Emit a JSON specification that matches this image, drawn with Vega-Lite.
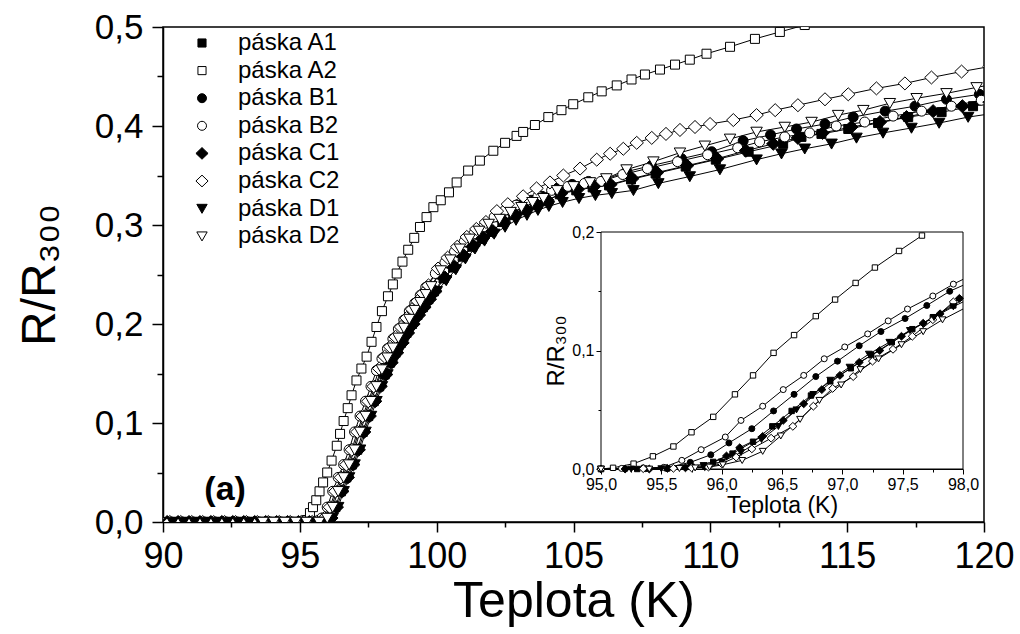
{
"$schema": "https://vega.github.io/schema/vega-lite/v6.json",
"width": 821, "height": 495,
"autosize": {"type": "none"},
"padding": {"left": 163, "top": 27, "right": 36, "bottom": 112},
"background": "white",
"config": {
  "font": "Liberation Sans",
  "locale": {"number": {"decimal": ",", "thousands": " ", "grouping": [3], "currency": ["", ""]}},
  "view": {"stroke": "black", "strokeWidth": 1.5},
  "axis": {"grid": false, "domainColor": "black", "tickColor": "black", "labelColor": "black", "titleColor": "black", "titleFontWeight": "normal", "labelFlush": false, "labelOverlap": false, "labelFont": "Liberation Sans", "titleFont": "Liberation Sans"}
},
"datasets": {
"lab": [{"t": 92.27, "r": 0.032, "txt": "(a)"}],
"box": [{"x1": 95, "x2": 98, "y1": 0, "y2": 0.2}],
"main": [
{"s":"páska A1","t":90,"r":0},{"s":"páska A1","t":90.4,"r":0},{"s":"páska A1","t":90.8,"r":0},{"s":"páska A1","t":91.2,"r":0},{"s":"páska A1","t":91.6,"r":0},{"s":"páska A1","t":92,"r":0},{"s":"páska A1","t":92.4,"r":0},{"s":"páska A1","t":92.8,"r":0},{"s":"páska A1","t":93.2,"r":0},{"s":"páska A1","t":93.6,"r":0},{"s":"páska A1","t":94,"r":0},{"s":"páska A1","t":94.4,"r":0},{"s":"páska A1","t":94.8,"r":0},{"s":"páska A1","t":95.2,"r":0},{"s":"páska A1","t":95.6,"r":0},
{"s":"páska A1","t":95.8,"r":0},{"s":"páska A1","t":96.1,"r":0.004},{"s":"páska A1","t":96.3,"r":0.015},{"s":"páska A1","t":96.5,"r":0.031},{"s":"páska A1","t":96.7,"r":0.045},{"s":"páska A1","t":96.9,"r":0.058},{"s":"páska A1","t":97.1,"r":0.073},{"s":"páska A1","t":97.3,"r":0.091},{"s":"páska A1","t":97.5,"r":0.107},{"s":"páska A1","t":97.7,"r":0.122},{"s":"páska A1","t":97.9,"r":0.137},{"s":"páska A1","t":98.1,"r":0.149},{"s":"páska A1","t":98.3,"r":0.161},{"s":"páska A1","t":98.5,"r":0.171},{"s":"páska A1","t":98.7,"r":0.181},{"s":"páska A1","t":98.9,"r":0.191},{"s":"páska A1","t":99.1,"r":0.2},{"s":"páska A1","t":99.3,"r":0.209},{"s":"páska A1","t":99.5,"r":0.217},{"s":"páska A1","t":99.7,"r":0.225},{"s":"páska A1","t":99.9,"r":0.233},{"s":"páska A1","t":100.25,"r":0.246},{"s":"páska A1","t":100.6,"r":0.257},{"s":"páska A1","t":100.95,"r":0.268},{"s":"páska A1","t":101.3,"r":0.278},{"s":"páska A1","t":101.65,"r":0.286},{"s":"páska A1","t":102,"r":0.293},{"s":"páska A1","t":102.4,"r":0.303},{"s":"páska A1","t":102.8,"r":0.31},{"s":"páska A1","t":103.2,"r":0.315},{"s":"páska A1","t":103.6,"r":0.32},{"s":"páska A1","t":104,"r":0.324},{"s":"páska A1","t":104.5,"r":0.331},{"s":"páska A1","t":105.1,"r":0.335},{"s":"páska A1","t":105.7,"r":0.338},{"s":"páska A1","t":106.3,"r":0.34},{"s":"páska A1","t":107.1,"r":0.346},{"s":"páska A1","t":108,"r":0.352},{"s":"páska A1","t":109.1,"r":0.359},{"s":"páska A1","t":110.2,"r":0.366},{"s":"páska A1","t":111.4,"r":0.374},{"s":"páska A1","t":112.66,"r":0.382},{"s":"páska A1","t":113.33,"r":0.389},{"s":"páska A1","t":114.06,"r":0.392},{"s":"páska A1","t":115.04,"r":0.397},{"s":"páska A1","t":116.13,"r":0.403},{"s":"páska A1","t":117.23,"r":0.409},{"s":"páska A1","t":118.45,"r":0.414},{"s":"páska A1","t":119.6,"r":0.42},{"s":"páska A1","t":120.5,"r":0.424},
{"s":"páska A2","t":90.1,"r":0},{"s":"páska A2","t":90.5,"r":0},{"s":"páska A2","t":90.9,"r":0},{"s":"páska A2","t":91.3,"r":0},{"s":"páska A2","t":91.7,"r":0},{"s":"páska A2","t":92.1,"r":0},{"s":"páska A2","t":92.5,"r":0},{"s":"páska A2","t":92.9,"r":0},{"s":"páska A2","t":93.3,"r":0},{"s":"páska A2","t":93.7,"r":0},{"s":"páska A2","t":94.1,"r":0},{"s":"páska A2","t":94.5,"r":0},{"s":"páska A2","t":94.9,"r":0},
{"s":"páska A2","t":95.25,"r":0.002},{"s":"páska A2","t":95.37,"r":0.009},{"s":"páska A2","t":95.48,"r":0.015},{"s":"páska A2","t":95.6,"r":0.022},{"s":"páska A2","t":95.72,"r":0.031},{"s":"páska A2","t":95.85,"r":0.04},{"s":"páska A2","t":96,"r":0.05},{"s":"páska A2","t":96.16,"r":0.062},{"s":"páska A2","t":96.35,"r":0.077},{"s":"páska A2","t":96.47,"r":0.089},{"s":"páska A2","t":96.6,"r":0.102},{"s":"páska A2","t":96.75,"r":0.115},{"s":"páska A2","t":96.89,"r":0.128},{"s":"páska A2","t":97.07,"r":0.143},{"s":"páska A2","t":97.25,"r":0.155},{"s":"páska A2","t":97.44,"r":0.167},{"s":"páska A2","t":97.62,"r":0.182},{"s":"páska A2","t":97.8,"r":0.197},{"s":"páska A2","t":98,"r":0.213},{"s":"páska A2","t":98.22,"r":0.228},{"s":"páska A2","t":98.4,"r":0.24},{"s":"páska A2","t":98.54,"r":0.251},{"s":"páska A2","t":98.75,"r":0.263},{"s":"páska A2","t":98.96,"r":0.275},{"s":"páska A2","t":99.18,"r":0.287},{"s":"páska A2","t":99.39,"r":0.298},{"s":"páska A2","t":99.63,"r":0.308},{"s":"páska A2","t":99.88,"r":0.318},{"s":"páska A2","t":100.15,"r":0.325},{"s":"páska A2","t":100.45,"r":0.333},{"s":"páska A2","t":100.73,"r":0.343},{"s":"páska A2","t":101.15,"r":0.355},{"s":"páska A2","t":101.58,"r":0.365},{"s":"páska A2","t":102.07,"r":0.375},{"s":"páska A2","t":102.5,"r":0.383},{"s":"páska A2","t":102.92,"r":0.39},{"s":"páska A2","t":103.16,"r":0.394},{"s":"páska A2","t":103.59,"r":0.401},{"s":"páska A2","t":104.08,"r":0.409},{"s":"páska A2","t":104.56,"r":0.416},{"s":"páska A2","t":104.99,"r":0.422},{"s":"páska A2","t":105.54,"r":0.429},{"s":"páska A2","t":106.03,"r":0.435},{"s":"páska A2","t":106.58,"r":0.441},{"s":"páska A2","t":107.12,"r":0.447},{"s":"páska A2","t":107.61,"r":0.452},{"s":"páska A2","t":108.16,"r":0.457},{"s":"páska A2","t":108.71,"r":0.462},{"s":"páska A2","t":109.25,"r":0.467},{"s":"páska A2","t":109.86,"r":0.473},{"s":"páska A2","t":110.72,"r":0.48},{"s":"páska A2","t":111.63,"r":0.488},{"s":"páska A2","t":112.54,"r":0.495},{"s":"páska A2","t":113.45,"r":0.502},{"s":"páska A2","t":114.4,"r":0.508},
{"s":"páska B1","t":90.2,"r":0},{"s":"páska B1","t":90.6,"r":0},{"s":"páska B1","t":91,"r":0},{"s":"páska B1","t":91.4,"r":0},{"s":"páska B1","t":91.8,"r":0},{"s":"páska B1","t":92.2,"r":0},{"s":"páska B1","t":92.6,"r":0},{"s":"páska B1","t":93,"r":0},{"s":"páska B1","t":93.4,"r":0},{"s":"páska B1","t":93.8,"r":0},{"s":"páska B1","t":94.2,"r":0},{"s":"páska B1","t":94.6,"r":0},{"s":"páska B1","t":95,"r":0},{"s":"páska B1","t":95.4,"r":0},
{"s":"páska B1","t":95.65,"r":0},{"s":"páska B1","t":95.95,"r":0.004},{"s":"páska B1","t":96.15,"r":0.015},{"s":"páska B1","t":96.35,"r":0.031},{"s":"páska B1","t":96.55,"r":0.045},{"s":"páska B1","t":96.75,"r":0.058},{"s":"páska B1","t":96.95,"r":0.073},{"s":"páska B1","t":97.15,"r":0.091},{"s":"páska B1","t":97.35,"r":0.107},{"s":"páska B1","t":97.55,"r":0.122},{"s":"páska B1","t":97.75,"r":0.137},{"s":"páska B1","t":97.95,"r":0.152},{"s":"páska B1","t":98.15,"r":0.164},{"s":"páska B1","t":98.35,"r":0.174},{"s":"páska B1","t":98.55,"r":0.184},{"s":"páska B1","t":98.75,"r":0.194},{"s":"páska B1","t":98.95,"r":0.203},{"s":"páska B1","t":99.15,"r":0.212},{"s":"páska B1","t":99.35,"r":0.22},{"s":"páska B1","t":99.55,"r":0.228},{"s":"páska B1","t":99.75,"r":0.236},{"s":"páska B1","t":100.1,"r":0.25},{"s":"páska B1","t":100.45,"r":0.261},{"s":"páska B1","t":100.8,"r":0.272},{"s":"páska B1","t":101.15,"r":0.282},{"s":"páska B1","t":101.5,"r":0.29},{"s":"páska B1","t":101.85,"r":0.297},{"s":"páska B1","t":102.25,"r":0.308},{"s":"páska B1","t":102.65,"r":0.315},{"s":"páska B1","t":103.05,"r":0.32},{"s":"páska B1","t":103.45,"r":0.325},{"s":"páska B1","t":103.85,"r":0.329},{"s":"páska B1","t":104.35,"r":0.337},{"s":"páska B1","t":104.95,"r":0.341},{"s":"páska B1","t":105.55,"r":0.344},{"s":"páska B1","t":106.15,"r":0.346},{"s":"páska B1","t":106.95,"r":0.354},{"s":"páska B1","t":107.85,"r":0.36},{"s":"páska B1","t":108.95,"r":0.367},{"s":"páska B1","t":110.05,"r":0.374},{"s":"páska B1","t":111.2,"r":0.385},{"s":"páska B1","t":112.2,"r":0.391},{"s":"páska B1","t":113.15,"r":0.397},{"s":"páska B1","t":114.19,"r":0.402},{"s":"páska B1","t":115.22,"r":0.409},{"s":"páska B1","t":116.39,"r":0.415},{"s":"páska B1","t":117.48,"r":0.42},{"s":"páska B1","t":118.63,"r":0.427},{"s":"páska B1","t":119.83,"r":0.432},{"s":"páska B1","t":120.9,"r":0.437},
{"s":"páska B2","t":90.3,"r":0},{"s":"páska B2","t":90.7,"r":0},{"s":"páska B2","t":91.1,"r":0},{"s":"páska B2","t":91.5,"r":0},{"s":"páska B2","t":91.9,"r":0},{"s":"páska B2","t":92.3,"r":0},{"s":"páska B2","t":92.7,"r":0},{"s":"páska B2","t":93.1,"r":0},{"s":"páska B2","t":93.5,"r":0},{"s":"páska B2","t":93.9,"r":0},{"s":"páska B2","t":94.3,"r":0},{"s":"páska B2","t":94.7,"r":0},{"s":"páska B2","t":95.1,"r":0},
{"s":"páska B2","t":95.5,"r":0},{"s":"páska B2","t":95.8,"r":0.004},{"s":"páska B2","t":96,"r":0.015},{"s":"páska B2","t":96.2,"r":0.031},{"s":"páska B2","t":96.4,"r":0.045},{"s":"páska B2","t":96.6,"r":0.058},{"s":"páska B2","t":96.8,"r":0.073},{"s":"páska B2","t":97,"r":0.091},{"s":"páska B2","t":97.2,"r":0.107},{"s":"páska B2","t":97.4,"r":0.122},{"s":"páska B2","t":97.6,"r":0.137},{"s":"páska B2","t":97.8,"r":0.153},{"s":"páska B2","t":98,"r":0.165},{"s":"páska B2","t":98.2,"r":0.175},{"s":"páska B2","t":98.4,"r":0.185},{"s":"páska B2","t":98.6,"r":0.195},{"s":"páska B2","t":98.8,"r":0.204},{"s":"páska B2","t":99,"r":0.213},{"s":"páska B2","t":99.2,"r":0.221},{"s":"páska B2","t":99.4,"r":0.229},{"s":"páska B2","t":99.6,"r":0.237},{"s":"páska B2","t":99.95,"r":0.251},{"s":"páska B2","t":100.3,"r":0.262},{"s":"páska B2","t":100.65,"r":0.273},{"s":"páska B2","t":101,"r":0.283},{"s":"páska B2","t":101.35,"r":0.291},{"s":"páska B2","t":101.7,"r":0.298},{"s":"páska B2","t":102.1,"r":0.308},{"s":"páska B2","t":102.5,"r":0.315},{"s":"páska B2","t":102.9,"r":0.32},{"s":"páska B2","t":103.3,"r":0.325},{"s":"páska B2","t":103.7,"r":0.329},{"s":"páska B2","t":104.2,"r":0.335},{"s":"páska B2","t":104.8,"r":0.339},{"s":"páska B2","t":105.4,"r":0.342},{"s":"páska B2","t":106,"r":0.344},{"s":"páska B2","t":106.8,"r":0.351},{"s":"páska B2","t":107.7,"r":0.357},{"s":"páska B2","t":108.8,"r":0.364},{"s":"páska B2","t":109.9,"r":0.371},{"s":"páska B2","t":111,"r":0.378},{"s":"páska B2","t":111.8,"r":0.384},{"s":"páska B2","t":112.72,"r":0.389},{"s":"páska B2","t":113.63,"r":0.393},{"s":"páska B2","t":114.6,"r":0.4},{"s":"páska B2","t":115.64,"r":0.404},{"s":"páska B2","t":116.68,"r":0.41},{"s":"páska B2","t":117.72,"r":0.415},{"s":"páska B2","t":118.81,"r":0.42},{"s":"páska B2","t":119.9,"r":0.426},{"s":"páska B2","t":120.9,"r":0.43},
{"s":"páska C1","t":90.15,"r":0},{"s":"páska C1","t":90.55,"r":0},{"s":"páska C1","t":90.95,"r":0},{"s":"páska C1","t":91.35,"r":0},{"s":"páska C1","t":91.75,"r":0},{"s":"páska C1","t":92.15,"r":0},{"s":"páska C1","t":92.55,"r":0},{"s":"páska C1","t":92.95,"r":0},{"s":"páska C1","t":93.35,"r":0},{"s":"páska C1","t":93.75,"r":0},{"s":"páska C1","t":94.15,"r":0},{"s":"páska C1","t":94.55,"r":0},{"s":"páska C1","t":94.95,"r":0},{"s":"páska C1","t":95.35,"r":0},
{"s":"páska C1","t":95.85,"r":0},{"s":"páska C1","t":96.15,"r":0.004},{"s":"páska C1","t":96.35,"r":0.015},{"s":"páska C1","t":96.55,"r":0.031},{"s":"páska C1","t":96.75,"r":0.045},{"s":"páska C1","t":96.95,"r":0.058},{"s":"páska C1","t":97.15,"r":0.073},{"s":"páska C1","t":97.35,"r":0.091},{"s":"páska C1","t":97.55,"r":0.107},{"s":"páska C1","t":97.75,"r":0.122},{"s":"páska C1","t":97.95,"r":0.137},{"s":"páska C1","t":98.15,"r":0.149},{"s":"páska C1","t":98.35,"r":0.161},{"s":"páska C1","t":98.55,"r":0.171},{"s":"páska C1","t":98.75,"r":0.181},{"s":"páska C1","t":98.95,"r":0.191},{"s":"páska C1","t":99.15,"r":0.2},{"s":"páska C1","t":99.35,"r":0.209},{"s":"páska C1","t":99.55,"r":0.217},{"s":"páska C1","t":99.75,"r":0.225},{"s":"páska C1","t":99.95,"r":0.233},{"s":"páska C1","t":100.3,"r":0.247},{"s":"páska C1","t":100.65,"r":0.258},{"s":"páska C1","t":101,"r":0.269},{"s":"páska C1","t":101.35,"r":0.279},{"s":"páska C1","t":101.7,"r":0.287},{"s":"páska C1","t":102.05,"r":0.294},{"s":"páska C1","t":102.45,"r":0.304},{"s":"páska C1","t":102.85,"r":0.311},{"s":"páska C1","t":103.25,"r":0.316},{"s":"páska C1","t":103.65,"r":0.321},{"s":"páska C1","t":104.05,"r":0.325},{"s":"páska C1","t":104.55,"r":0.332},{"s":"páska C1","t":105.15,"r":0.336},{"s":"páska C1","t":105.75,"r":0.339},{"s":"páska C1","t":106.35,"r":0.341},{"s":"páska C1","t":107.15,"r":0.347},{"s":"páska C1","t":108.05,"r":0.353},{"s":"páska C1","t":109.15,"r":0.36},{"s":"páska C1","t":110.25,"r":0.367},{"s":"páska C1","t":111.3,"r":0.375},{"s":"páska C1","t":112.3,"r":0.382},{"s":"páska C1","t":113.2,"r":0.388},{"s":"páska C1","t":114.1,"r":0.393},{"s":"páska C1","t":115.15,"r":0.399},{"s":"páska C1","t":116.2,"r":0.404},{"s":"páska C1","t":117.17,"r":0.409},{"s":"páska C1","t":118.14,"r":0.415},{"s":"páska C1","t":119.21,"r":0.42},{"s":"páska C1","t":120.2,"r":0.424},
{"s":"páska C2","t":90.25,"r":0},{"s":"páska C2","t":90.65,"r":0},{"s":"páska C2","t":91.05,"r":0},{"s":"páska C2","t":91.45,"r":0},{"s":"páska C2","t":91.85,"r":0},{"s":"páska C2","t":92.25,"r":0},{"s":"páska C2","t":92.65,"r":0},{"s":"páska C2","t":93.05,"r":0},{"s":"páska C2","t":93.45,"r":0},{"s":"páska C2","t":93.85,"r":0},{"s":"páska C2","t":94.25,"r":0},{"s":"páska C2","t":94.65,"r":0},{"s":"páska C2","t":95.05,"r":0},{"s":"páska C2","t":95.45,"r":0},
{"s":"páska C2","t":95.6,"r":0},{"s":"páska C2","t":95.9,"r":0.004},{"s":"páska C2","t":96.1,"r":0.015},{"s":"páska C2","t":96.3,"r":0.031},{"s":"páska C2","t":96.5,"r":0.045},{"s":"páska C2","t":96.7,"r":0.058},{"s":"páska C2","t":96.9,"r":0.073},{"s":"páska C2","t":97.1,"r":0.091},{"s":"páska C2","t":97.3,"r":0.107},{"s":"páska C2","t":97.5,"r":0.122},{"s":"páska C2","t":97.7,"r":0.137},{"s":"páska C2","t":97.9,"r":0.155},{"s":"páska C2","t":98.1,"r":0.167},{"s":"páska C2","t":98.3,"r":0.177},{"s":"páska C2","t":98.5,"r":0.187},{"s":"páska C2","t":98.7,"r":0.197},{"s":"páska C2","t":98.9,"r":0.206},{"s":"páska C2","t":99.1,"r":0.215},{"s":"páska C2","t":99.3,"r":0.223},{"s":"páska C2","t":99.5,"r":0.231},{"s":"páska C2","t":99.7,"r":0.239},{"s":"páska C2","t":100.05,"r":0.256},{"s":"páska C2","t":100.4,"r":0.267},{"s":"páska C2","t":100.75,"r":0.278},{"s":"páska C2","t":101.1,"r":0.288},{"s":"páska C2","t":101.45,"r":0.296},{"s":"páska C2","t":101.8,"r":0.303},{"s":"páska C2","t":102.2,"r":0.314},{"s":"páska C2","t":102.6,"r":0.321},{"s":"páska C2","t":103.16,"r":0.329},{"s":"páska C2","t":103.65,"r":0.337},{"s":"páska C2","t":104.14,"r":0.343},{"s":"páska C2","t":104.63,"r":0.35},{"s":"páska C2","t":105.24,"r":0.357},{"s":"páska C2","t":105.85,"r":0.366},{"s":"páska C2","t":106.34,"r":0.372},{"s":"páska C2","t":106.82,"r":0.377},{"s":"páska C2","t":107.31,"r":0.383},{"s":"páska C2","t":107.86,"r":0.388},{"s":"páska C2","t":108.38,"r":0.392},{"s":"páska C2","t":108.89,"r":0.396},{"s":"páska C2","t":109.44,"r":0.399},{"s":"páska C2","t":109.99,"r":0.402},{"s":"páska C2","t":110.84,"r":0.406},{"s":"páska C2","t":111.69,"r":0.411},{"s":"páska C2","t":112.37,"r":0.416},{"s":"páska C2","t":113.2,"r":0.421},{"s":"páska C2","t":114.19,"r":0.427},{"s":"páska C2","t":115.04,"r":0.432},{"s":"páska C2","t":116.07,"r":0.438},{"s":"páska C2","t":117.11,"r":0.443},{"s":"páska C2","t":118.08,"r":0.449},{"s":"páska C2","t":119.18,"r":0.455},{"s":"páska C2","t":120.2,"r":0.46},
{"s":"páska D1","t":90.35,"r":0},{"s":"páska D1","t":90.75,"r":0},{"s":"páska D1","t":91.15,"r":0},{"s":"páska D1","t":91.55,"r":0},{"s":"páska D1","t":91.95,"r":0},{"s":"páska D1","t":92.35,"r":0},{"s":"páska D1","t":92.75,"r":0},{"s":"páska D1","t":93.15,"r":0},{"s":"páska D1","t":93.55,"r":0},{"s":"páska D1","t":93.95,"r":0},{"s":"páska D1","t":94.35,"r":0},{"s":"páska D1","t":94.75,"r":0},{"s":"páska D1","t":95.15,"r":0},{"s":"páska D1","t":95.55,"r":0},
{"s":"páska D1","t":95.9,"r":0},{"s":"páska D1","t":96.2,"r":0.004},{"s":"páska D1","t":96.4,"r":0.015},{"s":"páska D1","t":96.6,"r":0.031},{"s":"páska D1","t":96.8,"r":0.045},{"s":"páska D1","t":97,"r":0.058},{"s":"páska D1","t":97.2,"r":0.073},{"s":"páska D1","t":97.4,"r":0.091},{"s":"páska D1","t":97.6,"r":0.107},{"s":"páska D1","t":97.8,"r":0.122},{"s":"páska D1","t":98,"r":0.137},{"s":"páska D1","t":98.2,"r":0.149},{"s":"páska D1","t":98.4,"r":0.161},{"s":"páska D1","t":98.6,"r":0.171},{"s":"páska D1","t":98.8,"r":0.181},{"s":"páska D1","t":99,"r":0.191},{"s":"páska D1","t":99.2,"r":0.2},{"s":"páska D1","t":99.4,"r":0.209},{"s":"páska D1","t":99.6,"r":0.217},{"s":"páska D1","t":99.8,"r":0.225},{"s":"páska D1","t":100,"r":0.233},{"s":"páska D1","t":100.35,"r":0.244},{"s":"páska D1","t":100.7,"r":0.255},{"s":"páska D1","t":101.05,"r":0.266},{"s":"páska D1","t":101.4,"r":0.276},{"s":"páska D1","t":101.75,"r":0.284},{"s":"páska D1","t":102.1,"r":0.291},{"s":"páska D1","t":102.5,"r":0.298},{"s":"páska D1","t":102.9,"r":0.305},{"s":"páska D1","t":103.3,"r":0.31},{"s":"páska D1","t":103.7,"r":0.315},{"s":"páska D1","t":104.1,"r":0.319},{"s":"páska D1","t":104.6,"r":0.323},{"s":"páska D1","t":105.2,"r":0.327},{"s":"páska D1","t":105.8,"r":0.33},{"s":"páska D1","t":106.4,"r":0.332},{"s":"páska D1","t":107.19,"r":0.335},{"s":"páska D1","t":108.1,"r":0.342},{"s":"páska D1","t":109.25,"r":0.349},{"s":"páska D1","t":110.35,"r":0.356},{"s":"páska D1","t":111.69,"r":0.366},{"s":"páska D1","t":112.6,"r":0.372},{"s":"páska D1","t":113.45,"r":0.377},{"s":"páska D1","t":114.43,"r":0.382},{"s":"páska D1","t":115.34,"r":0.388},{"s":"páska D1","t":116.31,"r":0.393},{"s":"páska D1","t":117.35,"r":0.398},{"s":"páska D1","t":118.36,"r":0.403},{"s":"páska D1","t":119.42,"r":0.409},{"s":"páska D1","t":120.4,"r":0.413},
{"s":"páska D2","t":93.65,"r":0},{"s":"páska D2","t":94.05,"r":0},{"s":"páska D2","t":94.45,"r":0},{"s":"páska D2","t":94.85,"r":0},{"s":"páska D2","t":95.25,"r":0},
{"s":"páska D2","t":95.7,"r":0},{"s":"páska D2","t":96,"r":0.004},{"s":"páska D2","t":96.2,"r":0.015},{"s":"páska D2","t":96.4,"r":0.031},{"s":"páska D2","t":96.6,"r":0.045},{"s":"páska D2","t":96.8,"r":0.058},{"s":"páska D2","t":97,"r":0.073},{"s":"páska D2","t":97.2,"r":0.091},{"s":"páska D2","t":97.4,"r":0.107},{"s":"páska D2","t":97.6,"r":0.122},{"s":"páska D2","t":97.8,"r":0.137},{"s":"páska D2","t":98,"r":0.154},{"s":"páska D2","t":98.2,"r":0.166},{"s":"páska D2","t":98.4,"r":0.176},{"s":"páska D2","t":98.6,"r":0.186},{"s":"páska D2","t":98.8,"r":0.196},{"s":"páska D2","t":99,"r":0.205},{"s":"páska D2","t":99.2,"r":0.214},{"s":"páska D2","t":99.4,"r":0.222},{"s":"páska D2","t":99.6,"r":0.23},{"s":"páska D2","t":99.8,"r":0.238},{"s":"páska D2","t":100.15,"r":0.254},{"s":"páska D2","t":100.5,"r":0.265},{"s":"páska D2","t":100.85,"r":0.276},{"s":"páska D2","t":101.2,"r":0.286},{"s":"páska D2","t":101.55,"r":0.294},{"s":"páska D2","t":101.9,"r":0.301},{"s":"páska D2","t":102.3,"r":0.306},{"s":"páska D2","t":102.7,"r":0.313},{"s":"páska D2","t":103.1,"r":0.318},{"s":"páska D2","t":103.5,"r":0.323},{"s":"páska D2","t":103.9,"r":0.327},{"s":"páska D2","t":104.4,"r":0.335},{"s":"páska D2","t":105,"r":0.339},{"s":"páska D2","t":105.6,"r":0.343},{"s":"páska D2","t":106.2,"r":0.347},{"s":"páska D2","t":106.94,"r":0.356},{"s":"páska D2","t":107.92,"r":0.364},{"s":"páska D2","t":108.89,"r":0.373},{"s":"páska D2","t":109.8,"r":0.38},{"s":"páska D2","t":110.72,"r":0.387},{"s":"páska D2","t":111.69,"r":0.394},{"s":"páska D2","t":112.72,"r":0.399},{"s":"páska D2","t":113.7,"r":0.404},{"s":"páska D2","t":114.67,"r":0.411},{"s":"páska D2","t":115.59,"r":0.416},{"s":"páska D2","t":116.56,"r":0.423},{"s":"páska D2","t":117.54,"r":0.428},{"s":"páska D2","t":118.63,"r":0.433},{"s":"páska D2","t":119.73,"r":0.439},{"s":"páska D2","t":120.7,"r":0.444}
],
"inset": [
{"s":"páska A1","t":95,"r":0},{"s":"páska A1","t":95.3,"r":0},{"s":"páska A1","t":95.55,"r":0.0005},{"s":"páska A1","t":95.75,"r":0.002},{"s":"páska A1","t":95.93,"r":0.006},{"s":"páska A1","t":96.09,"r":0.013},{"s":"páska A1","t":96.26,"r":0.023},{"s":"páska A1","t":96.42,"r":0.036},{"s":"páska A1","t":96.58,"r":0.049},{"s":"páska A1","t":96.74,"r":0.062},{"s":"páska A1","t":96.9,"r":0.074},{"s":"páska A1","t":97.07,"r":0.085},{"s":"páska A1","t":97.24,"r":0.096},{"s":"páska A1","t":97.41,"r":0.107},{"s":"páska A1","t":97.58,"r":0.118},{"s":"páska A1","t":97.75,"r":0.128},{"s":"páska A1","t":97.92,"r":0.138},{"s":"páska A1","t":98,"r":0.143},
{"s":"páska A2","t":95,"r":0},{"s":"páska A2","t":95.1,"r":0.001},{"s":"páska A2","t":95.27,"r":0.0045},{"s":"páska A2","t":95.43,"r":0.0107},{"s":"páska A2","t":95.6,"r":0.019},{"s":"páska A2","t":95.75,"r":0.031},{"s":"páska A2","t":95.93,"r":0.044},{"s":"páska A2","t":96.11,"r":0.063},{"s":"páska A2","t":96.26,"r":0.079},{"s":"páska A2","t":96.43,"r":0.098},{"s":"páska A2","t":96.6,"r":0.113},{"s":"páska A2","t":96.78,"r":0.129},{"s":"páska A2","t":96.94,"r":0.143},{"s":"páska A2","t":97.11,"r":0.157},{"s":"páska A2","t":97.27,"r":0.17},{"s":"páska A2","t":97.47,"r":0.184},{"s":"páska A2","t":97.66,"r":0.197},
{"s":"páska B1","t":95,"r":0},{"s":"páska B1","t":95.2,"r":0},{"s":"páska B1","t":95.37,"r":0.0003},{"s":"páska B1","t":95.54,"r":0.001},{"s":"páska B1","t":95.74,"r":0.0056},{"s":"páska B1","t":95.91,"r":0.012},{"s":"páska B1","t":96.06,"r":0.022},{"s":"páska B1","t":96.25,"r":0.034},{"s":"páska B1","t":96.43,"r":0.049},{"s":"páska B1","t":96.6,"r":0.063},{"s":"páska B1","t":96.78,"r":0.078},{"s":"páska B1","t":96.96,"r":0.091},{"s":"páska B1","t":97.14,"r":0.104},{"s":"páska B1","t":97.32,"r":0.116},{"s":"páska B1","t":97.52,"r":0.127},{"s":"páska B1","t":97.7,"r":0.138},{"s":"páska B1","t":97.89,"r":0.15},{"s":"páska B1","t":98,"r":0.155},
{"s":"páska B2","t":95,"r":0},{"s":"páska B2","t":95.17,"r":0.0005},{"s":"páska B2","t":95.35,"r":0.001},{"s":"páska B2","t":95.52,"r":0.0014},{"s":"páska B2","t":95.67,"r":0.0073},{"s":"páska B2","t":95.83,"r":0.0163},{"s":"páska B2","t":96.03,"r":0.027},{"s":"páska B2","t":96.16,"r":0.041},{"s":"páska B2","t":96.34,"r":0.053},{"s":"páska B2","t":96.51,"r":0.067},{"s":"páska B2","t":96.68,"r":0.079},{"s":"páska B2","t":96.85,"r":0.093},{"s":"páska B2","t":97.02,"r":0.103},{"s":"páska B2","t":97.21,"r":0.114},{"s":"páska B2","t":97.38,"r":0.125},{"s":"páska B2","t":97.54,"r":0.135},{"s":"páska B2","t":97.75,"r":0.146},{"s":"páska B2","t":97.92,"r":0.156},{"s":"páska B2","t":98,"r":0.16},
{"s":"páska C1","t":95,"r":0},{"s":"páska C1","t":95.2,"r":0},{"s":"páska C1","t":95.4,"r":0},{"s":"páska C1","t":95.55,"r":0.0005},{"s":"páska C1","t":95.7,"r":0.001},{"s":"páska C1","t":95.86,"r":0.002},{"s":"páska C1","t":96.04,"r":0.011},{"s":"páska C1","t":96.15,"r":0.018},{"s":"páska C1","t":96.34,"r":0.0275},{"s":"páska C1","t":96.51,"r":0.041},{"s":"páska C1","t":96.68,"r":0.055},{"s":"páska C1","t":96.83,"r":0.067},{"s":"páska C1","t":96.98,"r":0.079},{"s":"páska C1","t":97.14,"r":0.09},{"s":"páska C1","t":97.31,"r":0.1},{"s":"páska C1","t":97.49,"r":0.112},{"s":"páska C1","t":97.67,"r":0.123},{"s":"páska C1","t":97.81,"r":0.131},{"s":"páska C1","t":97.97,"r":0.144},{"s":"páska C1","t":98,"r":0.145},
{"s":"páska C2","t":95,"r":0},{"s":"páska C2","t":95.35,"r":0.0003},{"s":"páska C2","t":95.6,"r":0.0006},{"s":"páska C2","t":95.75,"r":0.001},{"s":"páska C2","t":95.89,"r":0.0017},{"s":"páska C2","t":96,"r":0.0045},{"s":"páska C2","t":96.12,"r":0.01},{"s":"páska C2","t":96.25,"r":0.017},{"s":"páska C2","t":96.41,"r":0.026},{"s":"páska C2","t":96.59,"r":0.036},{"s":"páska C2","t":96.76,"r":0.053},{"s":"páska C2","t":96.92,"r":0.068},{"s":"páska C2","t":97.09,"r":0.078},{"s":"páska C2","t":97.25,"r":0.091},{"s":"páska C2","t":97.42,"r":0.101},{"s":"páska C2","t":97.58,"r":0.112},{"s":"páska C2","t":97.75,"r":0.126},{"s":"páska C2","t":97.92,"r":0.141},{"s":"páska C2","t":98,"r":0.145},
{"s":"páska D1","t":95,"r":0},{"s":"páska D1","t":95.25,"r":0},{"s":"páska D1","t":95.5,"r":0.0003},{"s":"páska D1","t":95.7,"r":0.001},{"s":"páska D1","t":95.85,"r":0.003},{"s":"páska D1","t":96,"r":0.006},{"s":"páska D1","t":96.16,"r":0.014},{"s":"páska D1","t":96.33,"r":0.025},{"s":"páska D1","t":96.47,"r":0.036},{"s":"páska D1","t":96.62,"r":0.05},{"s":"páska D1","t":96.76,"r":0.063},{"s":"páska D1","t":96.9,"r":0.075},{"s":"páska D1","t":97.06,"r":0.086},{"s":"páska D1","t":97.22,"r":0.097},{"s":"páska D1","t":97.39,"r":0.107},{"s":"páska D1","t":97.56,"r":0.117},{"s":"páska D1","t":97.76,"r":0.128},{"s":"páska D1","t":97.92,"r":0.137},{"s":"páska D1","t":98,"r":0.141},
{"s":"páska D2","t":95,"r":0},{"s":"páska D2","t":95.4,"r":0},{"s":"páska D2","t":95.65,"r":0.0005},{"s":"páska D2","t":95.78,"r":0.001},{"s":"páska D2","t":95.9,"r":0.0017},{"s":"páska D2","t":96.01,"r":0.0036},{"s":"páska D2","t":96.17,"r":0.0073},{"s":"páska D2","t":96.34,"r":0.015},{"s":"páska D2","t":96.49,"r":0.028},{"s":"páska D2","t":96.65,"r":0.042},{"s":"páska D2","t":96.81,"r":0.058},{"s":"páska D2","t":96.99,"r":0.071},{"s":"páska D2","t":97.15,"r":0.084},{"s":"páska D2","t":97.3,"r":0.093},{"s":"páska D2","t":97.49,"r":0.105},{"s":"páska D2","t":97.67,"r":0.116},{"s":"páska D2","t":97.83,"r":0.126},{"s":"páska D2","t":98,"r":0.135}
]
},
"layer": [
 {
  "layer": [
   {"data": {"name": "main"},
    "mark": {"type": "line", "stroke": "black", "strokeWidth": 1, "clip": true},
    "encoding": {
      "x": {"field": "t", "type": "quantitative", "scale": {"domain": [90, 120], "nice": false, "zero": false},
            "axis": {"orient": "bottom", "values": [90, 95, 100, 105, 110, 115, 120], "format": "d", "labelFontSize": 36, "tickSize": 10, "tickWidth": 1.5, "domainWidth": 1.5, "labelPadding": 7, "title": "Teplota (K)", "titleFontSize": 50, "titlePadding": 2}},
      "y": {"field": "r", "type": "quantitative", "scale": {"domain": [0, 0.5], "nice": false},
            "axis": {"orient": "left", "values": [0, 0.1, 0.2, 0.3, 0.4, 0.5], "format": ".1f", "labelFontSize": 35, "tickSize": 11, "tickWidth": 1.5, "domainWidth": 1.5, "labelPadding": 9, "title": "R/R₃₀₀", "titleFontSize": 48, "titlePadding": 30}},
      "detail": {"field": "s", "type": "nominal"}
    }},
   {"data": {"name": "main"},
    "mark": {"type": "point", "size": 100, "strokeWidth": 1, "opacity": 1, "clip": true},
    "encoding": {
      "x": {"field": "t", "type": "quantitative", "axis": null},
      "y": {"field": "r", "type": "quantitative", "axis": null},
      "shape": {"field": "s", "type": "nominal", "legend": null,
        "scale": {"domain": ["páska A1","páska A2","páska B1","páska B2","páska C1","páska C2","páska D1","páska D2"],
                  "range": ["M-0.9,-0.9H0.9V0.9H-0.9Z","M-0.9,-0.9H0.9V0.9H-0.9Z","circle","circle","M-1.35,0L0,-1.3L1.35,0L0,1.3Z","M-1.35,0L0,-1.3L1.35,0L0,1.3Z","M-1.15,-0.95H1.15L0,1.05Z","M-1.15,-0.95H1.15L0,1.05Z"]}},
      "fill": {"field": "s", "type": "nominal", "legend": null,
        "scale": {"domain": ["páska A1","páska A2","páska B1","páska B2","páska C1","páska C2","páska D1","páska D2"],
                  "range": ["black","white","black","white","black","white","black","white"]}},
      "color": {"field": "s", "type": "nominal",
        "scale": {"domain": ["páska A1","páska A2","páska B1","páska B2","páska C1","páska C2","páska D1","páska D2"], "range": ["black","black","black","black","black","black","black","black"]},
        "legend": {"title": null, "orient": "none", "legendX": 10, "legendY": 4, "padding": 0, "labelFontSize": 24, "labelFont": "Liberation Sans", "labelColor": "black", "symbolSize": 81, "rowPadding": 3.6, "symbolOffset": 17, "labelOffset": 24, "symbolStrokeWidth": 1}}
    }},
   {"data": {"name": "lab"},
    "mark": {"type": "point", "opacity": 0},
    "encoding": {
      "x": {"field": "t", "type": "quantitative", "axis": {"orient": "bottom", "values": [92.5, 97.5, 102.5, 107.5, 112.5, 117.5], "labels": false, "domain": false, "tickSize": 5, "tickWidth": 1.5, "title": null}},
      "y": {"field": "r", "type": "quantitative", "axis": {"orient": "left", "values": [0.05, 0.15, 0.25, 0.35, 0.45], "labels": false, "domain": false, "tickSize": 6, "tickWidth": 1.5, "title": null}}
    }},
   {"data": {"name": "lab"},
    "mark": {"type": "text", "fontSize": 34, "fontWeight": "bold", "align": "center", "baseline": "middle", "color": "black", "font": "Liberation Sans"},
    "encoding": {
      "x": {"field": "t", "type": "quantitative", "axis": null},
      "y": {"field": "r", "type": "quantitative", "axis": null},
      "text": {"field": "txt"}
    }}
  ],
  "resolve": {"axis": {"x": "independent", "y": "independent"}}
 },
 {
  "layer": [
   {"data": {"name": "box"},
    "mark": {"type": "rect", "fill": "white", "stroke": "black", "strokeWidth": 1},
    "encoding": {
      "x": {"field": "x1", "type": "quantitative", "scale": {"domain": [95, 98], "range": [438, 800], "nice": false, "zero": false},
            "axis": {"orient": "bottom", "offset": -53, "values": [95, 95.5, 96, 96.5, 97, 97.5, 98], "format": ".1f", "labelFontSize": 16, "tickSize": 5, "tickWidth": 1, "domainWidth": 1, "labelPadding": 2, "title": "Teplota (K)", "titleFontSize": 23, "titlePadding": 2}},
      "x2": {"field": "x2"},
      "y": {"field": "y1", "type": "quantitative", "scale": {"domain": [0, 0.2], "range": [442, 205], "nice": false},
            "axis": {"orient": "left", "offset": -438, "values": [0, 0.1, 0.2], "format": ".1f", "labelFontSize": 16, "tickSize": 5, "tickWidth": 1, "domainWidth": 1, "labelPadding": 2, "title": "R/R₃₀₀", "titleFontSize": 24, "titlePadding": 3}},
      "y2": {"field": "y2"}
    }},
   {"data": {"name": "inset"},
    "mark": {"type": "line", "stroke": "black", "strokeWidth": 1},
    "encoding": {
      "x": {"field": "t", "type": "quantitative", "axis": null},
      "y": {"field": "r", "type": "quantitative", "axis": null},
      "detail": {"field": "s", "type": "nominal"}
    }},
   {"data": {"name": "inset"},
    "transform": [{"filter": "datum.t < 97.99"}],
    "mark": {"type": "point", "size": 36, "stroke": "black", "strokeWidth": 1, "opacity": 1},
    "encoding": {
      "x": {"field": "t", "type": "quantitative", "axis": null},
      "y": {"field": "r", "type": "quantitative", "axis": null},
      "shape": {"field": "s", "type": "nominal", "legend": null},
      "fill": {"field": "s", "type": "nominal", "legend": null}
    }},
   {"data": {"name": "box"},
    "mark": {"type": "point", "opacity": 0},
    "encoding": {
      "x": {"field": "x1", "type": "quantitative", "axis": {"orient": "bottom", "offset": -53, "values": [95.25, 95.75, 96.25, 96.75, 97.25, 97.75], "labels": false, "domain": false, "tickSize": 3, "tickWidth": 1, "title": null}},
      "y": {"field": "y1", "type": "quantitative", "axis": {"orient": "left", "offset": -438, "values": [0.05, 0.15], "labels": false, "domain": false, "tickSize": 3, "tickWidth": 1, "title": null}}
    }}
  ],
  "resolve": {"axis": {"x": "independent", "y": "independent"}}
 }
],
"resolve": {"scale": {"x": "independent", "y": "independent"}, "axis": {"x": "independent", "y": "independent"}}
}
